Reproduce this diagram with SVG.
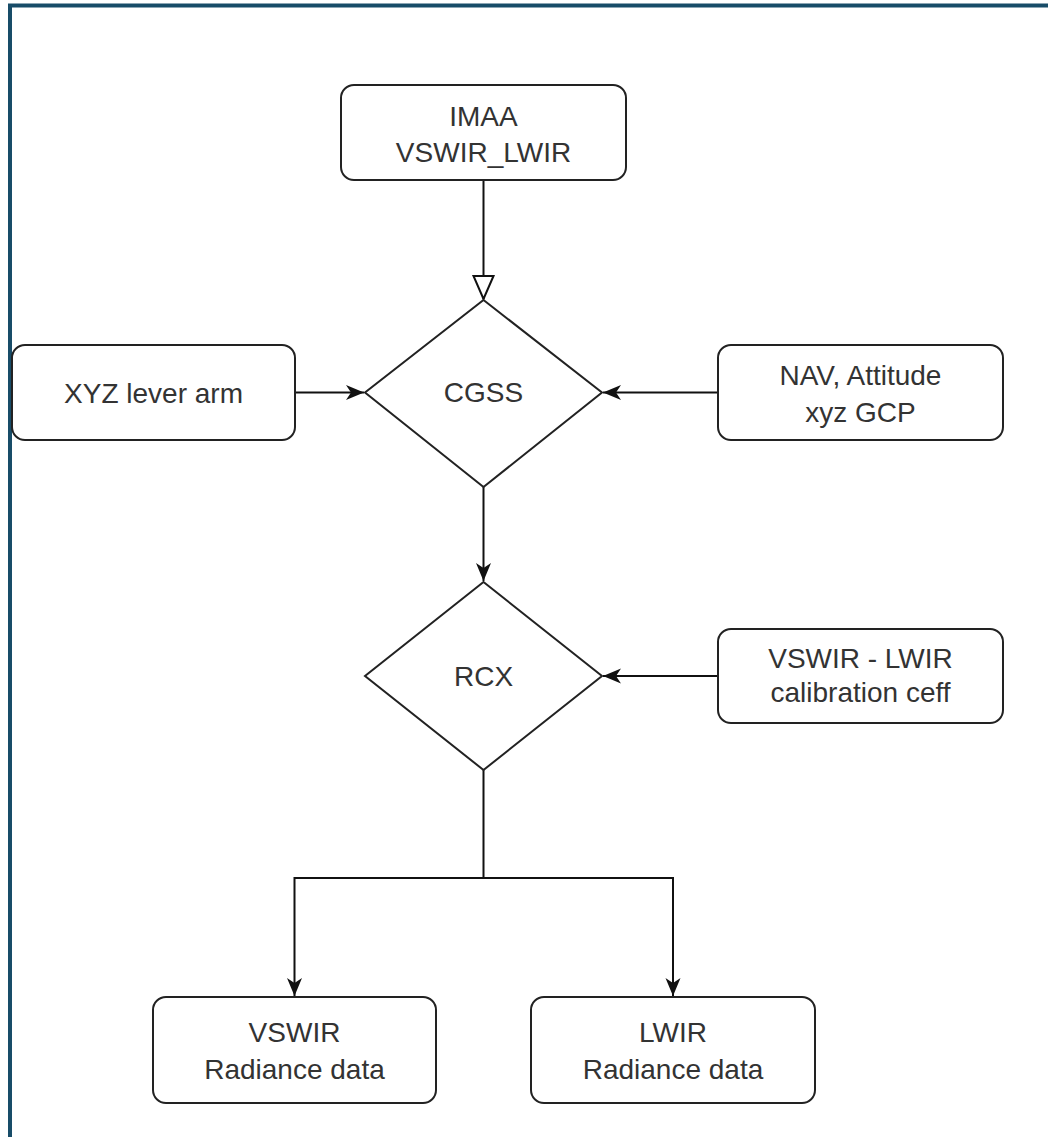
<svg xmlns="http://www.w3.org/2000/svg" width="1048" height="1137" viewBox="0 0 1048 1137">
<style>
.box{fill:#fff;stroke:#222;stroke-width:2}
.t{font-family:"Liberation Sans",Arial,sans-serif;font-size:28px;fill:#333;text-anchor:middle;dominant-baseline:central}
.edge{fill:none;stroke:#111;stroke-width:2}
</style>
<defs>
<marker id="arr" markerUnits="userSpaceOnUse" markerWidth="20" markerHeight="16" refX="18" refY="7.5" orient="auto">
<path d="M0,0 L18,7.5 L0,15 L5,7.5 Z" fill="#111"/>
</marker>
<marker id="open" markerUnits="userSpaceOnUse" markerWidth="26" markerHeight="24" refX="24" refY="11" orient="auto">
<path d="M1,1 L24,11 L1,21 Z" fill="#fff" stroke="#111" stroke-width="2"/>
</marker>
</defs>
<rect width="1048" height="1137" fill="#fff"/>
<path d="M10,1137 V5.5 H1048" fill="none" stroke="#184c68" stroke-width="4"/>
<g id="connectors">
<path class="edge" d="M483.5,180 V299" marker-end="url(#open)"/>
<path class="edge" d="M295,392.5 H364" marker-end="url(#arr)"/>
<path class="edge" d="M718,392.5 H603" marker-end="url(#arr)"/>
<path class="edge" d="M483.5,487 V581" marker-end="url(#arr)"/>
<path class="edge" d="M718,676 H603" marker-end="url(#arr)"/>
<path class="edge" d="M483.5,770 V878 H294.5 V996" marker-end="url(#arr)"/>
<path class="edge" d="M483.5,878 H673 V996" marker-end="url(#arr)"/>
</g>
<g id="imaa">
<rect class="box" x="341" y="85" width="285" height="95" rx="13"/>
<text class="t" x="483.5" y="116">IMAA</text>
<text class="t" x="483.5" y="152">VSWIR_LWIR</text>
</g>
<g id="cgss">
<path class="box" d="M483.5,300 L602,392.5 L483.5,487 L365,392.5 Z"/>
<text class="t" x="483.5" y="392">CGSS</text>
</g>
<g id="xyz">
<rect class="box" x="12" y="345" width="283" height="95" rx="13"/>
<text class="t" x="153.5" y="393">XYZ lever arm</text>
</g>
<g id="nav">
<rect class="box" x="718" y="345" width="285" height="95" rx="13"/>
<text class="t" x="860.5" y="375">NAV, Attitude</text>
<text class="t" x="860.5" y="412">xyz GCP</text>
</g>
<g id="rcx">
<path class="box" d="M483.5,582 L602,676 L483.5,770 L365,676 Z"/>
<text class="t" x="483.5" y="676">RCX</text>
</g>
<g id="calib">
<rect class="box" x="718" y="629" width="285" height="94" rx="13"/>
<text class="t" x="860.5" y="658">VSWIR - LWIR</text>
<text class="t" x="860.5" y="692">calibration ceff</text>
</g>
<g id="vswir">
<rect class="box" x="153" y="997" width="283" height="106" rx="13"/>
<text class="t" x="294.5" y="1032">VSWIR</text>
<text class="t" x="294.5" y="1069">Radiance data</text>
</g>
<g id="lwir">
<rect class="box" x="531" y="997" width="284" height="106" rx="13"/>
<text class="t" x="673" y="1032">LWIR</text>
<text class="t" x="673" y="1069">Radiance data</text>
</g>
</svg>
